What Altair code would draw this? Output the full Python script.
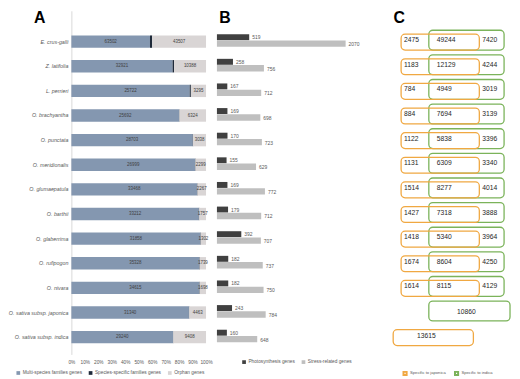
import altair as alt
import pandas as pd

# ---------------- data ----------------
species = ["E. crus-galli", "Z. latifolia", "L. perrieri", "O. brachyantha", "O. punctata",
           "O. meridionalis", "O. glumaepatula", "O. barthii", "O. glaberrima", "O. rufipogon",
           "O. nivara", "O. sativa subsp. japonica", "O. sativa subsp. indica"]
multi_species = [63502, 32921, 25722, 25692, 28703, 26999, 33468, 33212, 31858, 35328, 34615, 31340, 29240]
species_specific = [1800, 480, 250, 80, 90, 90, 120, 110, 100, 120, 110, 90, 80]
orphan = [43507, 10388, 3295, 6324, 3038, 2299, 2267, 1757, 1302, 1739, 1698, 4463, 9408]

photosynthesis = [519, 258, 167, 169, 170, 155, 169, 179, 392, 182, 182, 243, 160]
stress_related = [2070, 756, 712, 698, 723, 629, 772, 712, 707, 737, 750, 784, 648]

japonica_only = [2475, 1183, 784, 884, 1122, 1131, 1514, 1427, 1418, 1674, 1614]
shared_genes = [49244, 12129, 4949, 7694, 5838, 6309, 8277, 7318, 5340, 8604, 8115]
indica_only = [7420, 4244, 3019, 3139, 3396, 3340, 4014, 3888, 3964, 4250, 4129]
indica_specific = [10860]
japonica_specific = [13615]

A_SERIES = ["Multi-species families genes", "Species-specific families genes", "Orphan genes"]
A_COLORS = ["#8497b0", "#1f2a3a", "#d9d5d5"]
B_SERIES = ["Photosynthesis genes", "Stress-related genes"]
B_COLORS = ["#404040", "#bfbfbf"]
C_SERIES = ["Specific to japonica", "Specific to indica"]
C_COLORS = ["#f0a842", "#7bb35a"]
PANELS = ["A", "B", "C"]
PCT_TICKS = [i / 10 for i in range(11)]

FONT = "Liberation Sans"
GREY = "#595959"

# ---------------- layout helpers ----------------
n = len(species)
Y_DOMAIN = [-1.05, 12.5]
Y_SCALE = alt.Scale(domain=Y_DOMAIN, reverse=True)
H = 347

# ---------------- panel A ----------------
rowsA = []
for i in range(n):
    vals = [multi_species[i], species_specific[i], orphan[i]]
    tot = sum(vals)
    s = 0
    for name, v in zip(A_SERIES, vals):
        rowsA.append(dict(idx=i, series=name, value=v, start=s / tot, end=(s + v) / tot,
                          mid=(s + v / 2) / tot))
        s += v
dfA = pd.DataFrame(rowsA)
dfA_lab = dfA[dfA["series"] != A_SERIES[1]]
dfSp = pd.DataFrame({"idx": list(range(n)), "species": species})

yA = alt.Y("idx:Q", scale=Y_SCALE,
           axis=alt.Axis(labels=False, ticks=False, grid=False, domainColor="#d9d9d9",
                         domainWidth=1, title=None))
xAxisA = alt.Axis(values=PCT_TICKS, format=".0%", labelFontSize=4.8, labelColor=GREY,
                  labelFont=FONT, domain=False, ticks=False, grid=False, title=None,
                  labelPadding=5, labelOverlap=False, labelFlush=False)
xScaleA = alt.Scale(domain=[0, 1])

barsA = alt.Chart(dfA).mark_bar(orient="horizontal", size=12.5).encode(
    x=alt.X("start:Q", scale=xScaleA, axis=xAxisA),
    x2="end:Q",
    y=yA,
    color=alt.Color("series:N", scale=alt.Scale(domain=A_SERIES, range=A_COLORS),
                    legend=alt.Legend(orient="none", legendX=-56, legendY=363,
                                      direction="horizontal", title=None,
                                      symbolType="square", symbolSize=14,
                                      labelFontSize=4.8, labelColor=GREY, labelFont=FONT,
                                      labelOffset=2, columnPadding=6, symbolStrokeWidth=0)),
)
textA = alt.Chart(dfA_lab).mark_text(fontSize=4.5, color="#404040", font=FONT).encode(
    x=alt.X("mid:Q", scale=xScaleA, axis=xAxisA),
    y=yA,
    text="value:Q",
)
labelsA = alt.Chart(dfSp).mark_text(align="right", baseline="middle", fontSize=5.4,
                                    fontStyle="italic", color=GREY, font=FONT).encode(
    x=alt.value(-3), y=yA, text="species:N")
letterA = alt.Chart(pd.DataFrame({"t": [PANELS[0]]})).mark_text(
    fontSize=16, fontWeight="bold", font=FONT, color="black").encode(
    x=alt.value(-32), y=alt.value(7), text="t:N")

panelA = alt.layer(barsA, textA, labelsA, letterA).properties(width=136, height=H)

# ---------------- panel B ----------------
dfB = pd.DataFrame({"idx": list(range(n)), "photo": photosynthesis, "stress": stress_related,
                    "s1": B_SERIES[0], "s2": B_SERIES[1]})
yB = alt.Y("idx:Q", scale=Y_SCALE, axis=None)
xScaleB = alt.Scale(domain=[0, 2564])
colorB1 = alt.Color("s1:N", scale=alt.Scale(domain=B_SERIES, range=B_COLORS),
                    legend=alt.Legend(orient="none", legendX=25, legendY=352,
                                      direction="horizontal", title=None,
                                      symbolType="square", symbolSize=14,
                                      labelFontSize=4.8, labelColor=GREY, labelFont=FONT,
                                      labelOffset=2, columnPadding=6, symbolStrokeWidth=0))
colorB2 = alt.Color("s2:N", scale=alt.Scale(domain=B_SERIES, range=B_COLORS))

barP = alt.Chart(dfB).mark_bar(orient="horizontal", size=6, yOffset=-4.5).encode(
    x=alt.X("photo:Q", scale=xScaleB, axis=None), y=yB, color=colorB1)
barS = alt.Chart(dfB).mark_bar(orient="horizontal", size=6.5, yOffset=2).encode(
    x=alt.X("stress:Q", scale=xScaleB, axis=None), y=yB, color=colorB2)
txtP = alt.Chart(dfB).mark_text(align="left", dx=3, yOffset=-4.5, fontSize=5, color=GREY,
                                font=FONT).encode(
    x=alt.X("photo:Q", scale=xScaleB, axis=None), y=yB, text="photo:Q")
txtS = alt.Chart(dfB).mark_text(align="left", dx=3, yOffset=2.5, fontSize=5, color=GREY,
                                font=FONT).encode(
    x=alt.X("stress:Q", scale=xScaleB, axis=None), y=yB, text="stress:Q")
letterB = alt.Chart(pd.DataFrame({"t": [PANELS[1]]})).mark_text(
    fontSize=16, fontWeight="bold", font=FONT, color="black").encode(
    x=alt.value(8), y=alt.value(7), text="t:N")

panelB = alt.layer(barP, barS, txtP, txtS, letterB).properties(width=161, height=H)

# ---------------- panel C ----------------
C_EDGES = [0, 28, 79, 104]  # box layout columns (orange: 0-2, green: 1-3)
nc = len(japonica_only)
boxes_j = [dict(idx=i, group=C_SERIES[0], x0=C_EDGES[0], x1=C_EDGES[2]) for i in range(nc)]
boxes_j.append(dict(idx=nc + 1, group=C_SERIES[0], x0=C_EDGES[0] - 8, x1=C_EDGES[2] - 6))
boxes_g = [dict(idx=i, group=C_SERIES[1], x0=C_EDGES[1], x1=C_EDGES[3]) for i in range(nc)]
boxes_g.append(dict(idx=nc, group=C_SERIES[1], x0=C_EDGES[1], x1=C_EDGES[3] + 6))
dfJ = pd.DataFrame(boxes_j)
dfG = pd.DataFrame(boxes_g)

txt_left = []
for i in range(nc):
    txt_left.append(dict(idx=i, v=japonica_only[i], x=C_EDGES[0] + 3))
    txt_left.append(dict(idx=i, v=shared_genes[i], x=C_EDGES[1] + 8))
    txt_left.append(dict(idx=i, v=indica_only[i], x=C_EDGES[2] + 3))
dfTL = pd.DataFrame(txt_left)
dfTC = pd.DataFrame([
    dict(idx=nc, v=indica_specific[0], x=(C_EDGES[1] + C_EDGES[3]) / 2),
    dict(idx=nc + 1, v=japonica_specific[0], x=(C_EDGES[0] + C_EDGES[2]) / 2 - 14),
])

yC = alt.Y("idx:Q", scale=Y_SCALE, axis=None)
xScaleC = alt.Scale(domain=[-14, 112])
colorC = alt.Color("group:N", scale=alt.Scale(domain=C_SERIES, range=C_COLORS),
                   legend=alt.Legend(orient="none", legendX=15, legendY=363,
                                     direction="horizontal", title=None,
                                     symbolType="square", symbolSize=10,
                                     symbolStrokeWidth=2,
                                     labelFontSize=4.2, labelColor=GREY, labelFont=FONT,
                                     labelOffset=2, columnPadding=4))

boxG = alt.Chart(dfG).mark_bar(orient="horizontal", size=20, filled=False, strokeWidth=1.3,
                               cornerRadius=4, yOffset=-1.5).encode(
    x=alt.X("x0:Q", scale=xScaleC, axis=None), x2="x1:Q", y=yC, color=colorC)
boxJ = alt.Chart(dfJ).mark_bar(orient="horizontal", size=16, filled=False, strokeWidth=1.3,
                               cornerRadius=4, yOffset=0.5).encode(
    x=alt.X("x0:Q", scale=xScaleC, axis=None), x2="x1:Q", y=yC, color=colorC)
tL = alt.Chart(dfTL).mark_text(align="left", baseline="middle", fontSize=6.8, color="#262626",
                               font=FONT, yOffset=-1.5).encode(
    x=alt.X("x:Q", scale=xScaleC, axis=None), y=yC, text="v:Q")
tC = alt.Chart(dfTC).mark_text(align="center", baseline="middle", fontSize=6.8, color="#262626",
                               font=FONT, yOffset=-1).encode(
    x=alt.X("x:Q", scale=xScaleC, axis=None), y=yC, text="v:Q")
letterC = alt.Chart(pd.DataFrame({"t": [PANELS[2]]})).mark_text(
    fontSize=16, fontWeight="bold", font=FONT, color="black").encode(
    x=alt.value(12), y=alt.value(7), text="t:N")

panelC = alt.layer(boxG, boxJ, tL, tC, letterC).properties(width=126, height=H)

chart = alt.HConcatChart(hconcat=[panelA, panelB, panelC], spacing=11, bounds="flush").resolve_scale(
    color="independent", x="independent", y="independent"
).configure_view(stroke=None).properties(padding=0, background="white")

chart.save("out.html", embed_options={"renderer": "svg", "actions": False})
